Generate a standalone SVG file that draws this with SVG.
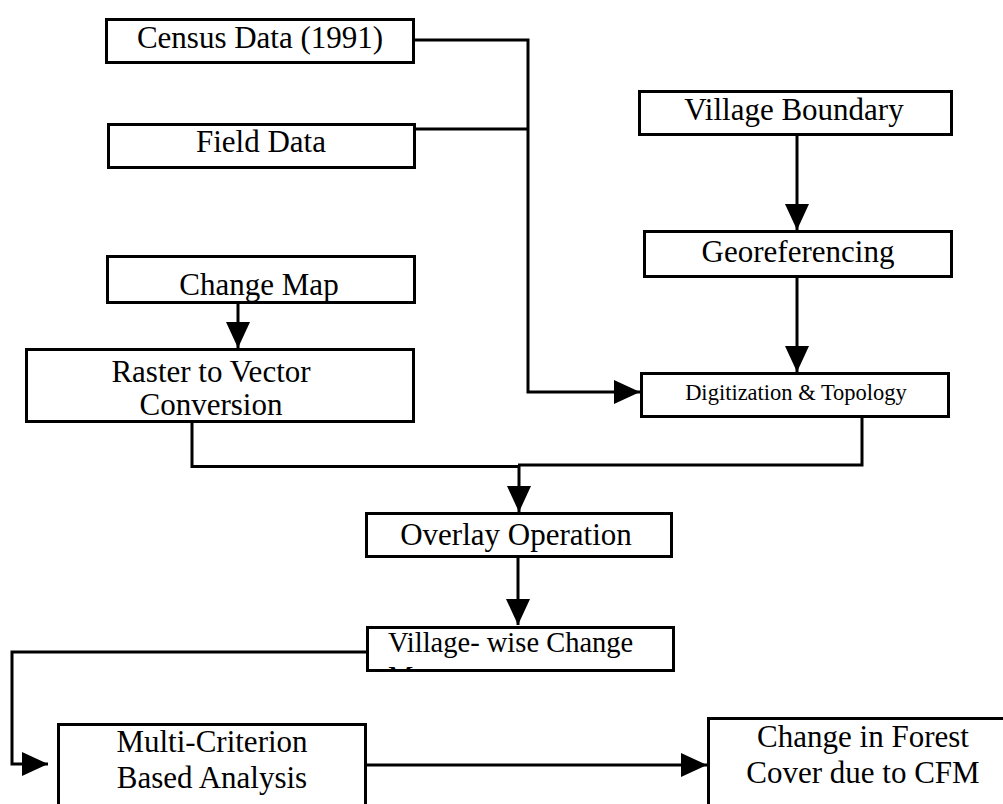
<svg xmlns="http://www.w3.org/2000/svg" width="1003" height="804" viewBox="0 0 1003 804">
<style>
.box{fill:#fff;stroke:#000;stroke-width:3}
.t{font-family:"Liberation Serif","Times New Roman",serif;font-size:31px;fill:#000;text-anchor:middle}
.c{fill:none;stroke:#000;stroke-width:3}
</style>
<defs>
<marker id="ah" markerUnits="userSpaceOnUse" markerWidth="26" markerHeight="24" refX="26" refY="12" orient="auto" viewBox="0 0 26 24">
<path d="M0,0 L26,12 L0,24 Z" fill="#000"/>
</marker>
<clipPath id="vwclip"><rect x="369" y="629" width="303" height="41.5"/></clipPath>
</defs>
<rect width="1003" height="804" fill="#fff"/>
<g id="connectors">
<path class="c" d="M415,40 H528 V392 H640" marker-end="url(#ah)"/>
<path class="c" d="M416,129 H528"/>
<path class="c" d="M797,136 V230" marker-end="url(#ah)"/>
<path class="c" d="M797,278 V372" marker-end="url(#ah)"/>
<path class="c" d="M238,304 V348" marker-end="url(#ah)"/>
<path class="c" d="M192,423 V466.5 H520"/>
<path class="c" d="M862,418 V465 H518"/>
<path class="c" d="M519,465 V512" marker-end="url(#ah)"/>
<path class="c" d="M518,558 V625" marker-end="url(#ah)"/>
<path class="c" d="M367,652 H12 V764 H48" marker-end="url(#ah)"/>
<path class="c" d="M367,765 H707" marker-end="url(#ah)"/>
</g>
<g id="census">
<rect class="box" x="106.5" y="19.5" width="307" height="43"/>
<text class="t" x="260" y="48">Census Data (1991)</text>
</g>
<g id="field">
<rect class="box" x="108.5" y="124.5" width="306" height="43"/>
<text class="t" x="261" y="152">Field Data</text>
</g>
<g id="village-boundary">
<rect class="box" x="639.5" y="91.5" width="312" height="43"/>
<text class="t" x="794" y="120">Village Boundary</text>
</g>
<g id="georeferencing">
<rect class="box" x="644.5" y="231.5" width="307" height="45"/>
<text class="t" x="798" y="262">Georeferencing</text>
</g>
<g id="change-map">
<rect class="box" x="107.5" y="256.5" width="307" height="46"/>
<text class="t" x="259" y="295">Change Map</text>
</g>
<g id="raster">
<rect class="box" x="26.5" y="349.5" width="387" height="72"/>
<text class="t" x="211" y="382">Raster to Vector</text>
<text class="t" x="211" y="415">Conversion</text>
</g>
<g id="digitization">
<rect class="box" x="641.5" y="373.5" width="307" height="43"/>
<text class="t" x="796" y="400" style="font-size:22.5px">Digitization &amp; Topology</text>
</g>
<g id="overlay">
<rect class="box" x="366.5" y="513.5" width="305" height="43"/>
<text class="t" x="516" y="545">Overlay Operation</text>
</g>
<g id="village-wise">
<rect class="box" x="367.5" y="627.5" width="306" height="43"/>
<g clip-path="url(#vwclip)">
<text class="t" x="388" y="652" style="font-size:28.5px;text-anchor:start">Village- wise Change</text>
<text class="t" x="388" y="686" style="font-size:28.5px;text-anchor:start">Map</text>
</g>
</g>
<g id="multi-criterion">
<rect class="box" x="58.5" y="724.5" width="307" height="100"/>
<text class="t" x="212" y="752">Multi-Criterion</text>
<text class="t" x="212" y="788">Based Analysis</text>
</g>
<g id="forest-change">
<rect class="box" x="708.5" y="718.5" width="320" height="100"/>
<text class="t" x="863" y="747">Change in Forest</text>
<text class="t" x="863" y="783">Cover due to CFM</text>
</g>
</svg>
